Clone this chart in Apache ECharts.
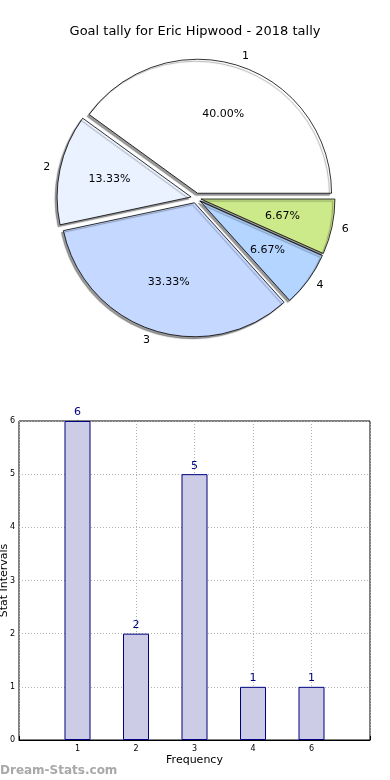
<!DOCTYPE html>
<html>
<head>
<meta charset="utf-8">
<script src="https://cdn.jsdelivr.net/npm/echarts@6/dist/echarts.min.js"></script>
<style>
html,body{margin:0;padding:0;background:#fff;}
#chart{width:390px;height:780px;}
</style>
</head>
<body>
<div id="chart"></div>
<script>
// ---- data ----
const pieNames = ['1', '2', '3', '4', '6'];
const pieValues = [6, 2, 5, 1, 1];
const pieColors = ['#ffffff', '#eaf1ff', '#c5d8ff', '#b3d5ff', '#cdea8a'];
const barCategories = ['1', '2', '3', '4', '6'];
const barValues = [6, 2, 5, 1, 1];
const yTicks = [0, 1, 2, 3, 4, 5, 6];
const titleText = 'Goal tally for Eric Hipwood - 2018 tally';

const FONT = 'DejaVu Sans';
const R = 134;
const CENTER = [196, 198];

const chart = echarts.init(document.getElementById('chart'), null, {renderer: 'canvas'});

const pieData = pieNames.map((n, i) => ({
  name: n, value: pieValues[i], selected: true,
  itemStyle: {color: pieColors[i]}
}));
const ghostData = pieNames.map((n, i) => ({name: n, value: pieValues[i], selected: true}));

const option = {
  animation: false,
  textStyle: {fontFamily: FONT},
  title: {
    text: titleText, left: 'center', top: 20,
    textStyle: {fontFamily: FONT, fontSize: 13, fontWeight: 'normal', color: '#000'}
  },
  grid: {left: 19, right: 20, top: 421, bottom: 40, containLabel: false, outerBoundsMode: 'none',
    show: true, borderColor: '#000', borderWidth: 1, backgroundColor: 'transparent'},
  xAxis: {
    type: 'value', min: -1, max: 5, interval: 1,
    name: 'Frequency', nameLocation: 'middle', nameGap: 15, nameMoveOverlap: false,
    nameTextStyle: {fontFamily: FONT, fontSize: 11, color: '#000'},
    axisLine: {show: true, lineStyle: {color: '#000'}},
    axisTick: {show: true, inside: true, length: 4, lineStyle: {color: '#000'}},
    axisLabel: {fontFamily: FONT, fontSize: 8, color: '#000', margin: 5,
      formatter: v => (v >= 0 && v < barCategories.length) ? barCategories[v] : ''},
    splitLine: {show: true, lineStyle: {color: '#b0b0b0', type: [1, 2]}}
  },
  yAxis: {
    type: 'value', min: yTicks[0], max: yTicks[yTicks.length - 1], interval: 1,
    name: 'Stat Intervals', nameLocation: 'middle', nameGap: 9, nameRotate: 90, nameMoveOverlap: false,
    nameTextStyle: {fontFamily: FONT, fontSize: 11, color: '#000'},
    axisLine: {show: true, lineStyle: {color: '#000'}},
    axisTick: {show: true, inside: true, length: 4, lineStyle: {color: '#000'}},
    axisLabel: {fontFamily: FONT, fontSize: 8, color: '#000', margin: 4},
    splitLine: {show: true, lineStyle: {color: '#b0b0b0', type: [1, 2]}}
  },
  graphic: [{
    type: 'text', left: 0, top: 765,
    style: {text: 'Dream-Stats.com', font: 'bold 12px "' + FONT + '"', fill: '#a8a8a8'}
  }],
  series: [
    {
      type: 'pie', center: CENTER, radius: R, startAngle: 0, clockwise: false,
      selectedMode: 'multiple', selectedOffset: 5, avoidLabelOverlap: false,
      silent: true, label: {show: false}, labelLine: {show: false},
      itemStyle: {borderColor: '#000', borderWidth: 0.8,
        shadowColor: 'rgba(0,0,0,0.4)', shadowBlur: 1, shadowOffsetX: -2, shadowOffsetY: 2},
      emphasis: {disabled: true},
      data: pieData, z: 1
    },
    {
      type: 'pie', center: CENTER, radius: [R * 0.2, R], startAngle: 0, clockwise: false,
      selectedMode: 'multiple', selectedOffset: 5, avoidLabelOverlap: false, silent: true,
      itemStyle: {color: 'rgba(0,0,0,0)', borderWidth: 0},
      label: {show: true, position: 'inside', fontFamily: FONT, fontSize: 11, color: '#000',
        formatter: p => p.percent.toFixed(2) + '%'},
      labelLine: {show: false},
      emphasis: {disabled: true},
      data: ghostData, z: 3
    },
    {
      type: 'pie', center: CENTER, radius: R, startAngle: 0, clockwise: false,
      avoidLabelOverlap: false, silent: true,
      itemStyle: {color: 'rgba(0,0,0,0)', borderWidth: 0},
      label: {show: true, position: 'outside', fontFamily: FONT, fontSize: 11, color: '#000',
        formatter: '{b}', distanceToLabelLine: 0},
      labelLine: {show: false, length: 15, length2: 0},
      emphasis: {disabled: true},
      data: pieNames.map((n, i) => ({name: n, value: pieValues[i]})), z: 3
    },
    {
      type: 'bar', barWidth: 26,
      data: barCategories.map((c, i) => [i, barValues[i]]),
      itemStyle: {color: '#ccccE6', borderColor: '#000080', borderWidth: 1},
      label: {show: true, position: 'top', distance: 3, fontFamily: FONT, fontSize: 11, color: '#000080',
        formatter: p => String(p.value[1])},
      emphasis: {disabled: true}
    }
  ]
};
chart.setOption(option);
</script>
</body>
</html>
